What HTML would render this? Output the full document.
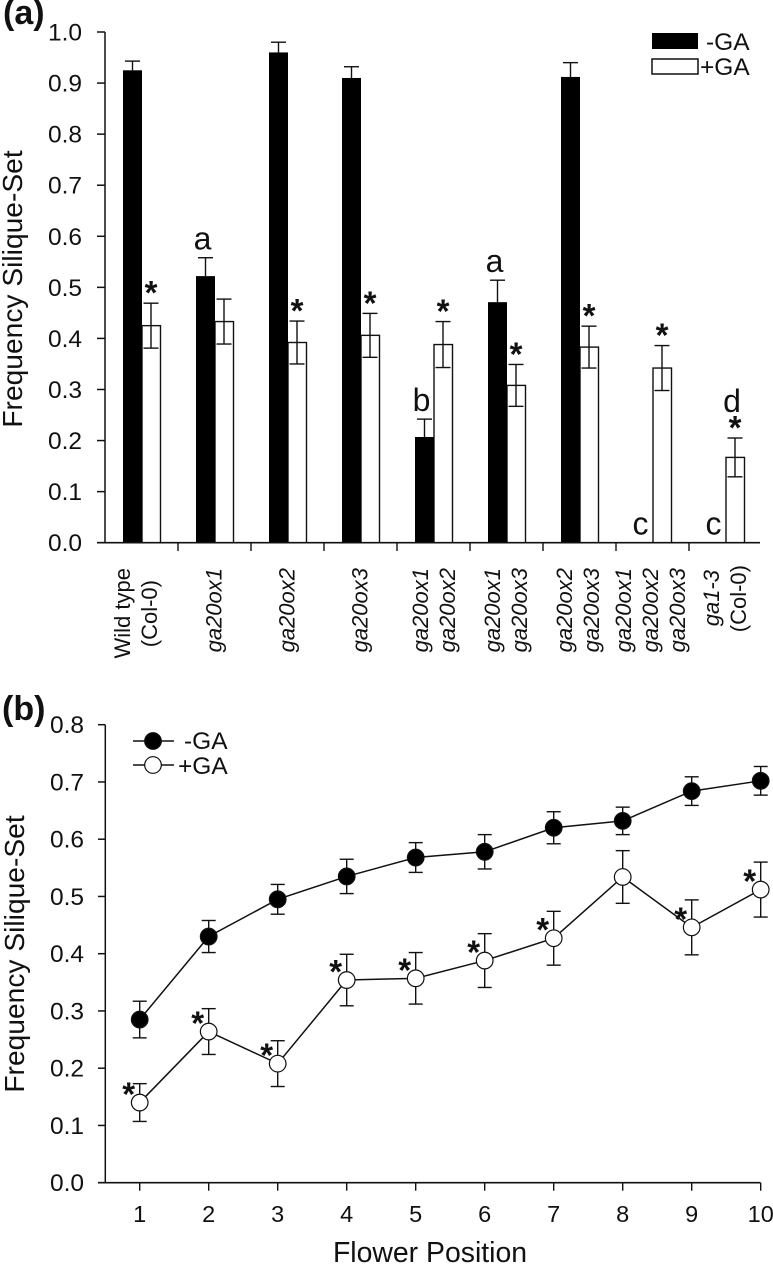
<!DOCTYPE html>
<html lang="en">
<head>
<meta charset="utf-8">
<title>Frequency Silique-Set charts</title>
<style>
html,body{margin:0;padding:0;background:#fff;}
svg{display:block;}
text{font-family:"Liberation Sans",sans-serif;fill:#111;}
</style>
</head>
<body>
<svg id="chart" xmlns="http://www.w3.org/2000/svg" width="773" height="1264" viewBox="0 0 773 1264">
  <rect x="0" y="0" width="773" height="1264" fill="#fff"/>
  <text x="3" y="24" font-size="34" font-weight="bold">(a)</text>
  <text x="2" y="720" font-size="34" font-weight="bold">(b)</text>
  <text transform="translate(22,289) rotate(-90)" text-anchor="middle" font-size="28.2">Frequency Silique-Set</text>
  <text transform="translate(24,954) rotate(-90)" text-anchor="middle" font-size="28.2">Frequency Silique-Set</text>
  <text x="430" y="1262" text-anchor="middle" font-size="28.4">Flower Position</text>
  <g>
    <rect x="652" y="33" width="46" height="16" fill="#000"/>
    <rect x="652" y="59" width="46" height="15" fill="#fff" stroke="#111" stroke-width="1.5"/>
    <text x="706" y="50" font-size="24.5">-GA</text>
    <text x="700" y="75" font-size="24.5">+GA</text>
  </g>
  <g>
    <line x1="133" y1="741" x2="174" y2="741" stroke="#111" stroke-width="1.5"/>
    <circle cx="153" cy="741" r="8.3" fill="#000" stroke="#111" stroke-width="1.2"/>
    <line x1="133" y1="765" x2="174" y2="765" stroke="#111" stroke-width="1.5"/>
    <circle cx="153" cy="765" r="8.3" fill="#fff" stroke="#111" stroke-width="1.2"/>
    <text x="184" y="749" font-size="24.5">-GA</text>
    <text x="178" y="774" font-size="24.5">+GA</text>
  </g>
</svg>
<script>
// Panel (a) data
var barMinusGA = [0.925, 0.522, 0.96, 0.91, 0.207, 0.471, 0.912, 0, 0];
var barMinusErr = [0.018, 0.036, 0.02, 0.022, 0.035, 0.043, 0.028, 0, 0];
var barPlusGA = [0.425, 0.433, 0.392, 0.406, 0.388, 0.308, 0.383, 0.342, 0.167];
var barPlusErr = [0.044, 0.044, 0.042, 0.043, 0.045, 0.041, 0.041, 0.044, 0.038];
var barPlusStars = [true, false, true, true, true, true, true, true, true];
var barMinusLetters = ['', 'a', '', '', 'b', 'a', '', 'c', 'c'];
var barPlusLetters = ['', '', '', '', '', '', '', '', 'd'];
var barTicks = ['0.0', '0.1', '0.2', '0.3', '0.4', '0.5', '0.6', '0.7', '0.8', '0.9', '1.0'];
var barCategoryLines = [
  [{t: 'Wild type', i: false}, {t: '(Col-0)', i: false}],
  [{t: 'ga20ox1', i: true}],
  [{t: 'ga20ox2', i: true}],
  [{t: 'ga20ox3', i: true}],
  [{t: 'ga20ox1', i: true}, {t: 'ga20ox2', i: true}],
  [{t: 'ga20ox1', i: true}, {t: 'ga20ox3', i: true}],
  [{t: 'ga20ox2', i: true}, {t: 'ga20ox3', i: true}],
  [{t: 'ga20ox1', i: true}, {t: 'ga20ox2', i: true}, {t: 'ga20ox3', i: true}],
  [{t: 'ga1-3', i: true}, {t: '(Col-0)', i: false}]
];

// Panel (b) data
var flowerPositions = [1, 2, 3, 4, 5, 6, 7, 8, 9, 10];
var lineMinusGA = [0.285, 0.43, 0.495, 0.535, 0.568, 0.578, 0.62, 0.632, 0.684, 0.702];
var lineMinusErr = [0.032, 0.028, 0.026, 0.03, 0.026, 0.03, 0.028, 0.024, 0.025, 0.025];
var linePlusGA = [0.14, 0.264, 0.208, 0.354, 0.357, 0.388, 0.427, 0.534, 0.446, 0.512];
var linePlusErr = [0.033, 0.04, 0.04, 0.045, 0.045, 0.047, 0.047, 0.046, 0.048, 0.048];
var linePlusStars = [true, true, true, true, true, true, true, false, true, true];
var lineTicks = ['0.0', '0.1', '0.2', '0.3', '0.4', '0.5', '0.6', '0.7', '0.8'];

var svg = document.getElementById('chart');
var NS = 'http://www.w3.org/2000/svg';
var INK = '#111';

function make(tag, attrs, parent) {
  var el = document.createElementNS(NS, tag);
  for (var k in attrs) { el.setAttribute(k, attrs[k]); }
  (parent || svg).appendChild(el);
  return el;
}
function segment(x1, y1, x2, y2, w, parent) {
  return make('line', {x1: x1, y1: y1, x2: x2, y2: y2, stroke: INK, 'stroke-width': w}, parent);
}

// ---- Panel (a) axes functions
function ya(v) { return 542.7 - 510.7 * v; }
function groupX(i) { return 123 + 73 * i; }
var barW = 19;

var gA = make('g', {});



barPlusGA.forEach(function (v, i) {
  var left = groupX(i) + barW;
  var cx = left + barW / 2 - 0.5;
  var bar = make('rect', {x: left, y: ya(v), width: barW - 0.5, height: ya(0) - ya(v), fill: '#fff', stroke: INK, 'stroke-width': 1.4}, gA);
  
  
  var e = barPlusErr[i];
  var err = make('g', {}, gA);
  
  
  segment(cx, ya(v + e), cx, ya(v - e), 1.4, err);
  segment(cx - 7.5, ya(v + e), cx + 7.5, ya(v + e), 1.4, err);
  segment(cx - 7.5, ya(v - e), cx + 7.5, ya(v - e), 1.4, err);
  if (barPlusStars[i]) {
    var star = make('text', {x: cx, y: ya(v + e) + 1, 'text-anchor': 'middle', 'font-size': 33, 'font-weight': 'bold'}, gA);
    star.textContent = '*';
    
    
  }
  if (barPlusLetters[i]) {
    var lp = make('text', {x: cx - 3, y: ya(v + e) - 26, 'text-anchor': 'middle', 'font-size': 32}, gA);
    lp.textContent = barPlusLetters[i];
    
    
  }
});

barMinusGA.forEach(function (v, i) {
  var left = groupX(i);
  var cx = left + barW / 2;
  var e = barMinusErr[i];
  if (v > 0) {
    var err = make('g', {}, gA);
    
    
    segment(cx, ya(v + e), cx, ya(v), 1.4, err);
    segment(cx - 7.5, ya(v + e), cx + 7.5, ya(v + e), 1.4, err);
    var bar = make('rect', {x: left, y: ya(v), width: barW, height: ya(0) - ya(v), fill: '#000'}, gA);
    
    
  }
  if (barMinusLetters[i]) {
    var lm = make('text', {x: cx - 3, y: ya(v + e) - 8, 'text-anchor': 'middle', 'font-size': 32}, gA);
    lm.textContent = barMinusLetters[i];
    
    
  }
});

var axisA = make('g', {});


segment(105, ya(1), 105, ya(0), 1.5, axisA);
segment(97, ya(0), 760, ya(0), 1.6, axisA);
barTicks.forEach(function (label) {
  var v = parseFloat(label);
  segment(97, ya(v), 105, ya(v), 1.5, axisA);
  var t = make('text', {x: 82, y: ya(v) + 8.5, 'text-anchor': 'end', 'font-size': 24.5}, axisA);
  t.textContent = label;
  
  
});
barCategoryLines.forEach(function (lines, i) {
  if (i > 0) { segment(groupX(i) - 18, ya(0), groupX(i) - 18, 551, 1.4, axisA); }
  var gap = 27;
  var base = 221.5 + 73 * (i - 1);
  if (i === 0) { base = 130; }
  else if (i === 8) { base = 719; }
  else if (lines.length === 2) { base = 428 + 72 * (i - 4); }
  else if (lines.length === 3) { base = 631; }
  lines.forEach(function (line, j) {
    var x = base + j * gap;
    var isParen = line.t.charAt(0) === '(';
    var yy = 568;
    if (isParen) { yy = i === 0 ? 580 : 565; }
    if (line.t === 'ga1-3') { yy = 570; }
    var t = make('text', {transform: 'translate(' + x + ',' + yy + ') rotate(-90)', 'text-anchor': 'end', 'font-size': 22, 'font-style': line.i ? 'italic' : 'normal'}, axisA);
    t.textContent = line.t;
    
    
  });
});

// ---- Panel (b) axes functions
function yb(v) { return 1182.7 - 572.5 * v; }
function xb(p) { return 139.7 + 69 * (p - 1); }

var axisB = make('g', {});


segment(105.3, yb(0.8), 105.3, yb(0), 1.5, axisB);
segment(98, yb(0), 760.5, yb(0), 1.6, axisB);
lineTicks.forEach(function (label) {
  var v = parseFloat(label);
  segment(98, yb(v), 105.3, yb(v), 1.5, axisB);
  var t = make('text', {x: 84, y: yb(v) + 8.5, 'text-anchor': 'end', 'font-size': 24.5}, axisB);
  t.textContent = label;
  
  
});
flowerPositions.forEach(function (p) {
  segment(xb(p), yb(0), xb(p), 1190.7, 1.4, axisB);
  var t = make('text', {x: xb(p), y: 1222, 'text-anchor': 'middle', 'font-size': 23.5}, axisB);
  t.textContent = String(p);
  
  
});

function drawSeries(name, values, errors, fill) {
  var g = make('g', {});
  
  
  var pts = values.map(function (v, i) { return xb(flowerPositions[i]) + ',' + yb(v); }).join(' ');
  var line = make('polyline', {points: pts, fill: 'none', stroke: INK, 'stroke-width': 1.5}, g);
  
  
  values.forEach(function (v, i) {
    var x = xb(flowerPositions[i]);
    var e = errors[i];
    var err = make('g', {}, g);
    
    
    segment(x, yb(v + e), x, yb(v - e), 1.4, err);
    segment(x - 7, yb(v + e), x + 7, yb(v + e), 1.4, err);
    segment(x - 7, yb(v - e), x + 7, yb(v - e), 1.4, err);
  });
  values.forEach(function (v, i) {
    var pt = make('circle', {cx: xb(flowerPositions[i]), cy: yb(v), r: 8.3, fill: fill, stroke: INK, 'stroke-width': 1.2}, g);
    
    
  });
}
drawSeries('minus-ga', lineMinusGA, lineMinusErr, '#000');
drawSeries('plus-ga', linePlusGA, linePlusErr, '#fff');

linePlusGA.forEach(function (v, i) {
  if (!linePlusStars[i]) { return; }
  var s = make('text', {x: xb(flowerPositions[i]) - 11, y: yb(v) + 3, 'text-anchor': 'middle', 'font-size': 33, 'font-weight': 'bold'}, svg);
  s.textContent = '*';
  
  
});
</script>
</body>
</html>
